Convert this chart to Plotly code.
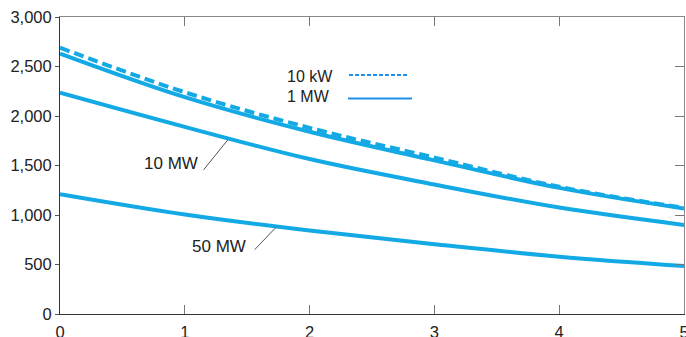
import plotly.graph_objects as go

x_vals = [0, 1, 2, 3, 4, 5]
kw10 = [2690, 2240, 1880, 1580, 1285, 1072]
mw1 = [2630, 2190, 1841, 1552, 1274, 1066]
mw10 = [2235, 1890, 1565, 1308, 1075, 900]
mw50 = [1210, 1005, 843, 705, 579, 485]

x_ticks = [0, 1, 2, 3, 4, 5]
y_ticks = [0, 500, 1000, 1500, 2000, 2500, 3000]
y_tick_text = ["0", "500", "1,000", "1,500", "2,000", "2,500", "3,000"]

LINE = "#12A9E4"
LEG = "#1E8FEA"
FONT = "Liberation Sans, Arial, sans-serif"

fig = go.Figure()
fig.add_trace(go.Scatter(x=x_vals, y=mw50, mode="lines", line=dict(color=LINE, width=4, shape="spline"), showlegend=False))
fig.add_trace(go.Scatter(x=x_vals, y=mw10, mode="lines", line=dict(color=LINE, width=4, shape="spline"), showlegend=False))
fig.add_trace(go.Scatter(x=x_vals, y=mw1, mode="lines", line=dict(color=LINE, width=4, shape="spline"), showlegend=False))
fig.add_trace(go.Scatter(x=x_vals, y=kw10, mode="lines", line=dict(color=LINE, width=4, shape="spline", dash="10px,5px"), showlegend=False))
# invisible trace to anchor the top/right axes
fig.add_trace(go.Scatter(x=[0], y=[0], xaxis="x2", yaxis="y2", mode="markers", marker=dict(opacity=0), showlegend=False, hoverinfo="skip"))

fig.update_layout(
    width=686, height=337,
    margin=dict(l=60, r=2, t=17, b=23),
    paper_bgcolor="white", plot_bgcolor="white",
    font=dict(family=FONT, size=16.5, color="#222"),
    xaxis=dict(range=[0, 5], tickvals=x_ticks, ticks="inside", ticklen=9, tickcolor="#777",
               showline=True, linecolor="#333", linewidth=1, showgrid=False, zeroline=False,
               ticklabelstandoff=3, ticklabeloverflow="allow", automargin=False, fixedrange=True),
    xaxis2=dict(range=[0, 5], overlaying="x", side="top", tickvals=[1, 2, 3, 4], ticks="inside", ticklen=9,
                tickcolor="#777", showline=True, linecolor="#888", linewidth=1, showticklabels=False,
                showgrid=False, zeroline=False, automargin=False),
    yaxis=dict(range=[0, 3000], tickvals=y_ticks, ticktext=y_tick_text, ticks="outside", ticklen=4,
               tickcolor="#555", showline=True, linecolor="#333", linewidth=1, showgrid=False, zeroline=False,
               ticklabeloverflow="allow", automargin=False),
    yaxis2=dict(range=[0, 3000], overlaying="y", side="right", tickvals=[500, 1000, 1500, 2000, 2500],
                ticks="inside", ticklen=9, tickcolor="#777", showline=True, linecolor="#888", linewidth=1,
                showticklabels=False, showgrid=False, zeroline=False, automargin=False),
)

# curve labels with leader lines
fig.add_annotation(x=1.125, y=1525, text="10 MW", showarrow=False, xanchor="right", yanchor="middle",
                   font=dict(size=17, color="#222", family=FONT))
fig.add_shape(type="line", x0=1.15, y0=1455, x1=1.345, y1=1760, line=dict(color="#555", width=1))
fig.add_annotation(x=1.505, y=677, text="50 MW", showarrow=False, xanchor="right", yanchor="middle",
                   font=dict(size=17, color="#222", family=FONT))
fig.add_shape(type="line", x0=1.56, y0=650, x1=1.73, y1=875, line=dict(color="#555", width=1))

# legend (text left, line sample right)
def px(xp):
    return (xp - 60) / 624.0

def py(yp):
    return (314 - yp) / 297.0

fig.add_annotation(xref="paper", yref="paper", x=px(285), y=py(76.5), text="10 kW", showarrow=False,
                   xanchor="left", yanchor="middle", font=dict(size=16, color="#222", family=FONT))
fig.add_annotation(xref="paper", yref="paper", x=px(285), y=py(96), text="1 MW", showarrow=False,
                   xanchor="left", yanchor="middle", font=dict(size=16, color="#222", family=FONT))
fig.add_shape(type="line", xref="paper", yref="paper", x0=px(349), x1=px(409), y0=py(75), y1=py(75),
              line=dict(color=LEG, width=2, dash="4px,2px"))
fig.add_shape(type="line", xref="paper", yref="paper", x0=px(348), x1=px(412), y0=py(98.5), y1=py(98.5),
              line=dict(color=LEG, width=2))

fig.write_html(
    "out.html",
    config={"displayModeBar": False, "staticPlot": True},
    post_script=("document.documentElement.style.margin='0';document.body.style.margin='0';"
                 "document.documentElement.style.overflow='hidden';document.body.style.overflow='hidden';"),
)
